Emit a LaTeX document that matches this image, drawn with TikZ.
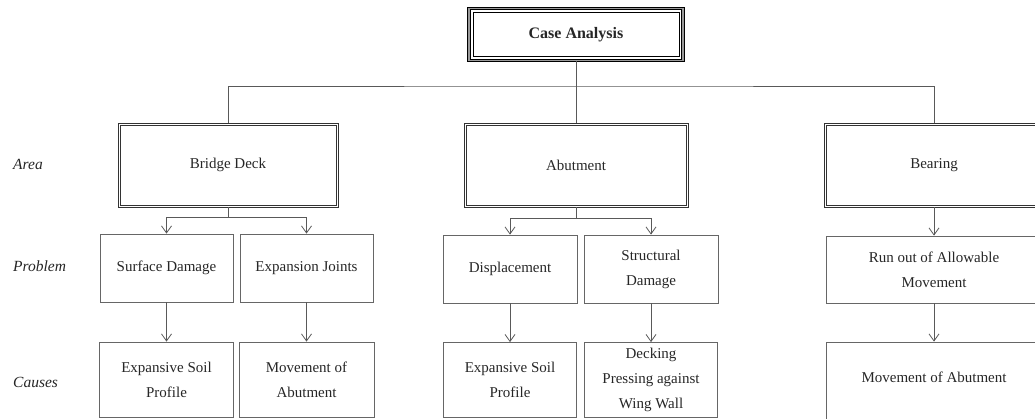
\documentclass[tikz,border=0pt]{standalone}
\usepackage{fontspec}
\setmainfont{Liberation Serif}
\usetikzlibrary{positioning,arrows.meta}

\tikzset{
  areabox/.style={draw=black!80, line width=0.8pt, minimum height=84pt, inner sep=0pt},
  itembox/.style={draw=black!60, line width=0.8pt, inner sep=0pt, align=center},
  link/.style={draw=black!65, line width=0.8pt},
  arr/.style={link, -{Straight Barb[length=7pt,width=10pt]}},
  rowlabel/.style={anchor=west, inner sep=0pt, font=\fontsize{15.5}{19}\selectfont\itshape}
}

\begin{document}
\begin{tikzpicture}[x=1pt, y=-1pt, font=\fontsize{15}{25}\selectfont, text=black!85]
  \clip (0,0) rectangle (1035,419);
  \node (case) [draw, line width=1.3pt, double=black!40, double distance=1.2pt, minimum width=214pt, minimum height=52pt, inner sep=0pt] at (576,34.5) {\fontsize{16}{19}\selectfont\bfseries Case Analysis};
  \draw[line width=0.6pt] ([shift={(4.5pt,-4.5pt)}]case.north west) rectangle ([shift={(-4.5pt,4.5pt)}]case.south east);

  \node (lblarea) [rowlabel] at (13,164) {Area};
  \node (lblproblem) [rowlabel] at (13,266) {Problem};
  \node (lblcauses) [rowlabel] at (13,382) {Causes};

  \node (deck) [areabox, minimum width=220pt] at (228,165) {Bridge Deck};
  \node (abut) [areabox, minimum width=224pt] at (576,165) {Abutment};
  \node (bear) [areabox, minimum width=220pt] at (934,165) {Bearing};
  \foreach \n in {deck,abut,bear}
    \draw[draw=black!80, line width=0.8pt] ([shift={(2.4pt,-2.4pt)}]\n.north west) rectangle ([shift={(-2.4pt,2.4pt)}]\n.south east);

  \node (surf) [itembox, minimum width=133pt, minimum height=68pt] at (166.5,268) {Surface Damage};
  \node (joint) [itembox, minimum width=133pt, minimum height=68pt] at (306.5,268) {Expansion Joints};
  \node (disp) [itembox, minimum width=134pt, minimum height=68pt] at (510,269) {Displacement};
  \node (struct) [itembox, minimum width=134pt, minimum height=68pt] at (651,269) {Structural\\Damage};
  \node (runout) [itembox, minimum width=216pt, minimum height=67pt] at (934,269.5) {Run out of Allowable\\Movement};

  \node (soil1) [itembox, minimum width=134pt, minimum height=75pt] at (166.5,379.5) {Expansive Soil\\Profile};
  \node (move1) [itembox, minimum width=135pt, minimum height=75pt] at (306.5,379.5) {Movement of\\Abutment};
  \node (soil2) [itembox, minimum width=133pt, minimum height=75pt] at (510,380) {Expansive Soil\\Profile};
  \node (wing) [itembox, minimum width=133pt, minimum height=75pt] at (651,380) {Decking\\Pressing against\\Wing Wall};
  \node (move2) [itembox, minimum width=216pt, minimum height=88pt, text depth=18pt] at (934,386) {Movement of Abutment};

  \coordinate (top) at (576,86);
  \draw[link] (case.south) -- (top);
  \draw[link] (deck.north) |- (top) -| (bear.north);
  \draw[link] (top) -- (abut.north);

  \coordinate (deckfork) at (228,217);
  \draw[link] (deck.south) -- (deckfork);
  \draw[arr] (deckfork) -| (surf.north);
  \draw[arr] (deckfork) -| (joint.north);

  \coordinate (abutfork) at (576,218);
  \draw[link] (abut.south) -- (abutfork);
  \draw[arr] (abutfork) -| (disp.north);
  \draw[arr] (abutfork) -| (struct.north);

  \draw[arr] (bear.south) -- (runout.north);

  \draw[arr] (surf.south) -- (soil1.north);
  \draw[arr] (joint.south) -- (move1.north);
  \draw[arr] (disp.south) -- (soil2.north);
  \draw[arr] (struct.south) -- (wing.north);
  \draw[arr] (runout.south) -- (move2.north);
\end{tikzpicture}
\end{document}
